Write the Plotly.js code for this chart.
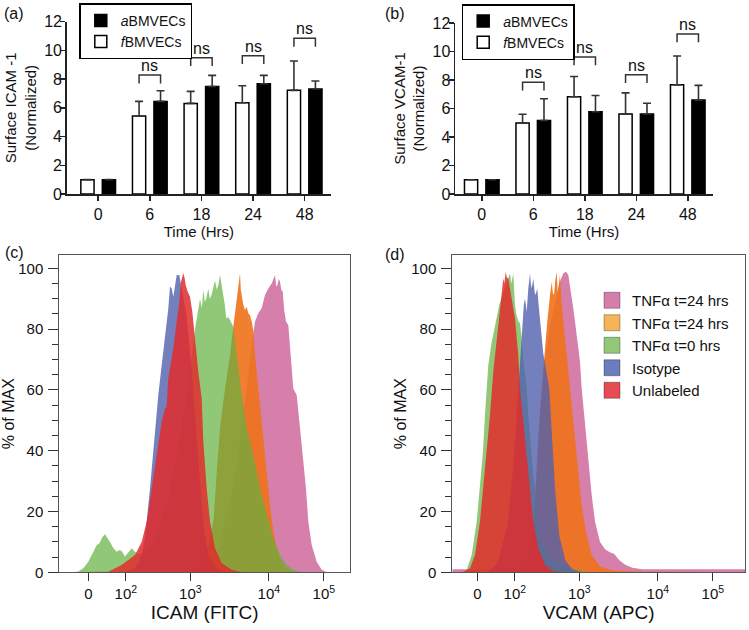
<!DOCTYPE html>
<html><head><meta charset="utf-8">
<script src="https://cdn.plot.ly/plotly-3.0.1.min.js"></script>
<style>html,body{margin:0;padding:0;background:#fff}#chart{width:749px;height:630px}</style>
</head><body><div id="chart"></div>
<script>
// ---------- (a)/(b) bar data ----------
const timeCats = ['0', '6', '18', '24', '48'];
const icamF    = [1.0, 5.43, 6.31, 6.36, 7.22];
const icamFErr = [0, 1.02, 0.84, 1.18, 2.04];
const icamA    = [1.0, 6.45, 7.49, 7.68, 7.31];
const icamAErr = [0, 0.74, 0.77, 0.58, 0.56];
const icamBracket = [null, 8.28, 9.49, 9.63, 10.84];

const vcamF    = [1.0, 4.99, 6.82, 5.62, 7.66];
const vcamFErr = [0, 0.61, 1.43, 1.48, 2.02];
const vcamA    = [1.0, 5.16, 5.77, 5.62, 6.59];
const vcamAErr = [0, 1.52, 1.14, 0.75, 1.03];
const vcamBracket = [null, 7.85, 9.61, 8.37, 11.23];

// ---------- (c)/(d) flow histogram data (display position on biexponential axis, % of max) ----------
const flowTickPos  = [0, 37.5, 102, 180.5, 235.5];
const flowTickText = ['0', '10<sup>2</sup>', '10<sup>3</sup>', '10<sup>4</sup>', '10<sup>5</sup>'];

const icamTnf24bX = [-29, 95, 110, 120, 130, 140, 148, 155, 160, 163, 166.7, 170, 173.4, 176.7, 180, 183.4, 185.5, 186.7, 188, 189.2, 190.5, 191.7, 193, 194.4, 196, 197.7, 200, 202.4, 205, 208.4, 211.7, 215, 217.7, 220, 223.4, 228.4, 233.4, 238.4, 261.7];
const icamTnf24bY = [0, 0, 1, 3, 8, 20, 35, 52, 65, 74, 82.5, 85.2, 87, 91.2, 93.4, 95, 96.5, 97.8, 94, 94.5, 96.5, 95.6, 93, 92.3, 86, 82.5, 81.4, 71.5, 60.5, 58.3, 47.4, 38.6, 27.6, 16.7, 9, 3.5, 0.8, 0, 0];
const icamTnf24aX = [-29, 100, 110, 116, 120, 123, 125.5, 128.4, 131.7, 136.7, 141.7, 145, 147, 148.5, 150, 151.7, 152.5, 153.4, 155, 156.7, 158.4, 160, 161.7, 163.4, 165, 166.7, 170, 173.4, 176.7, 178.4, 181.7, 185, 190, 196.7, 205, 215, 261.7];
const icamTnf24aY = [0, 0, 1, 4, 8, 13, 18, 33, 47.4, 60.5, 71.5, 80.8, 86, 90, 95, 98.4, 93, 91.2, 88, 86.3, 87.4, 85.2, 84.6, 82.5, 79.7, 71.5, 60.5, 49.6, 38.6, 32, 22, 13.4, 5.7, 1.3, 0.2, 0, 0];
const icamTnf0X = [-29, -15, -10, -5, 0, 3.4, 6, 8.4, 11, 14, 16.7, 19, 21.7, 25, 28.3, 31, 33.3, 36.7, 40, 43.4, 46.7, 50, 55, 60, 70, 80, 90, 100, 106.7, 108.4, 111.7, 113.5, 115, 116.5, 118, 120, 121.5, 123, 125, 126.7, 128.5, 130, 131.7, 133, 135, 136.5, 138, 140, 141.7, 145, 148.4, 153.4, 158.4, 165, 171.7, 178.4, 185, 191.7, 198.4, 205, 211.7, 220, 261.7];
const icamTnf0Y = [0, 0, 0.3, 1.3, 3.5, 5.7, 7.5, 9, 9.5, 11.5, 12.5, 11.5, 10, 8, 6.8, 7.3, 7, 5.2, 6.5, 7.9, 6.8, 6, 6.5, 8, 14, 25, 42, 62, 80, 83, 90, 87, 93, 89, 90, 93.4, 90, 91, 94, 96, 93, 94.5, 97.8, 95, 92, 88, 83.5, 84, 83, 80.8, 71.5, 58.3, 47.4, 38.6, 27.6, 18.9, 11.2, 5.7, 2.4, 0.8, 0.2, 0, 0];
const icamIsoX = [-29, 35, 45, 50, 53.5, 56.7, 61.7, 66, 70, 73.4, 76.7, 80, 81.7, 83.4, 85, 86.5, 88.4, 91, 94, 98, 102, 106, 110, 115, 120, 126, 135, 261.7];
const icamIsoY = [0, 0, 1, 3, 6, 11.2, 27.6, 44, 58.3, 68.2, 77, 86.8, 94, 93.4, 90.7, 94, 97.8, 97.8, 92, 85, 72, 55, 35, 16, 6, 2, 0, 0];
const icamUnlX = [-29, 10, 20, 33.3, 46.7, 53.4, 58.4, 63.4, 68.4, 73.4, 76, 78.4, 80, 82.5, 85, 88.4, 90.7, 92.7, 95, 96.2, 97.4, 99.4, 101.7, 104, 106.7, 110, 113.4, 115, 118.4, 121.7, 126.7, 133.4, 143.4, 151.7, 160, 261.7];
const icamUnlY = [0, 0, 0.2, 2.4, 5.7, 10, 16.7, 27.6, 38.6, 49.6, 53, 55, 63.8, 69, 73.7, 82.5, 88, 95.6, 98.4, 97, 94.5, 92.3, 90.7, 85.7, 75.9, 66, 57.2, 43, 27.6, 16.7, 7.9, 3, 0.8, 0.2, 0, 0];

const vcamTnf24bX = [-25, 30, 40, 48, 55, 60, 64, 68, 72, 77, 82, 86, 88.7, 91, 92.7, 94.4, 96, 97.7, 100, 102.7, 104.4, 106.7, 109.4, 112, 114.4, 117.7, 122.7, 128, 133, 137, 142, 148, 155, 165, 267.7];
const vcamTnf24bY = [1, 1, 1.5, 3, 10, 30, 55, 70, 80, 88, 95, 98.4, 98.9, 97.8, 94.5, 91.2, 86.8, 82.5, 77, 69.3, 60.5, 51.8, 43, 34.2, 25.4, 16.7, 10, 7.5, 6.5, 6, 4, 2.5, 1.5, 1, 1];
const vcamTnf24aX = [-25, 45, 50, 53, 57, 61, 64.4, 67, 70, 72.7, 74.4, 75.5, 76.7, 78, 79.4, 80.5, 81.5, 82.7, 84.4, 87.7, 91, 94.4, 97.7, 101, 104.4, 108.7, 114.4, 122.7, 136, 160, 267.7];
const vcamTnf24aY = [0, 0, 1, 5, 20, 45, 60.5, 72, 82.5, 91.2, 95.6, 92, 91.2, 96, 98.9, 92, 96, 97.8, 88, 77, 66, 55, 44, 33, 22, 13.4, 5.7, 1.9, 0.6, 0.3, 0];
const vcamTnf0X = [-25, -12, -10.6, -5.6, -0.6, 2.7, 5.4, 7.7, 9, 11, 14, 18, 22, 26, 29, 31, 32.7, 34, 35, 36, 37, 37.7, 39, 41, 42.7, 44.4, 46, 47.7, 49.4, 51, 52.7, 54.4, 56, 57.7, 59.4, 61, 64.4, 71, 82.7, 96, 110, 120, 267.7];
const vcamTnf0Y = [0, 0, 0.8, 5.7, 16.7, 27.6, 38.6, 51.8, 60, 68.2, 75, 82, 88, 92, 95, 97, 98.4, 95, 97, 98.4, 92, 88, 85, 82.5, 82, 77, 70, 65, 60.5, 52, 45, 38, 32, 27.6, 21, 15, 9, 5, 2.4, 0.8, 0.2, 0, 0];
const vcamIsoX = [-25, 10, 20, 30, 36, 40, 42.5, 44.4, 45.4, 46.5, 47.7, 49.4, 51, 52.7, 53.5, 54.4, 56, 57.7, 58.8, 60, 61.3, 62.7, 66, 72, 75, 77.7, 82, 88, 95, 105, 267.7];
const vcamIsoY = [0, 0, 3, 15, 35, 55, 70, 80, 83.5, 88, 90.1, 85.7, 93.4, 98.4, 95, 93.4, 96.7, 91.2, 92, 93.4, 88, 82.5, 72, 60.5, 45, 27.6, 12, 4, 1, 0, 0];
const vcamUnlX = [-25, -15, -7.3, -2.3, 2.7, 6, 9.4, 12.7, 16, 19.4, 22.7, 24.5, 26, 27, 28.4, 29.5, 31, 32.7, 34.5, 36, 37.7, 39.4, 41, 42.7, 46, 49.4, 52.7, 56, 61, 67.7, 76, 85, 267.7];
const vcamUnlY = [0, 0, 1.3, 5.7, 16.7, 27.6, 38.6, 51.8, 66, 77, 88, 93, 96.7, 95, 98.9, 97, 96.7, 93.4, 90, 87, 83.5, 77, 71.5, 60.5, 49.6, 38.6, 27.6, 16.7, 7.9, 2.4, 0.4, 0, 0];

const seriesNames = ['TNF\u03b1 t=24 hrs', 'TNF\u03b1 t=24 hrs', 'TNF\u03b1 t=0 hrs', 'Isotype', 'Unlabeled'];

// ---------- styling ----------
const W = 749, H = 630;
const px = v => v / W;
const py = v => 1 - v / H;
const FONT = 'Liberation Sans, Arial, sans-serif';
const fillCols = ['rgba(212,122,168,0.96)', 'rgba(238,114,25,0.9)', 'rgba(98,176,62,0.7)', 'rgba(80,96,172,0.8)', 'rgba(226,44,44,0.85)'];
const legendCols = ['rgb(214,126,170)', 'rgb(245,180,88)', 'rgb(146,200,122)', 'rgb(108,124,190)', 'rgb(230,76,84)'];
const aName = '<i>a</i>BMVECs';
const fName = '<i>f</i>BMVECs';
const barOff = 0.208, barW = 0.256;
const idx = timeCats.map((c, i) => i);

function barTraces(fv, fe, av, ae, xa, ya, leg) {
  const common = {type: 'bar', x: idx, width: barW, xaxis: xa, yaxis: ya, legend: leg, hoverinfo: 'skip'};
  return [
    Object.assign({}, common, {name: aName, y: av, offset: barOff - barW / 2,
      marker: {color: '#000', line: {color: '#000', width: 1.5}},
      error_y: {type: 'data', symmetric: false, array: ae, arrayminus: ae.map(() => 0), color: '#333', thickness: 1.6, width: 4}}),
    Object.assign({}, common, {name: fName, y: fv, offset: -barOff - barW / 2,
      marker: {color: '#fff', line: {color: '#000', width: 1.5}},
      error_y: {type: 'data', symmetric: false, array: fe, arrayminus: fe.map(() => 0), color: '#333', thickness: 1.6, width: 4}})
  ];
}
function bracketTrace(br, xa, ya) {
  const x = [], y = [];
  br.forEach((b, i) => {
    if (b == null) return;
    x.push(i - barOff, i - barOff, i + barOff, i + barOff, null);
    y.push(b - 0.58, b, b, b - 0.58, null);
  });
  return {type: 'scatter', mode: 'lines', x: x, y: y, xaxis: xa, yaxis: ya, showlegend: false, hoverinfo: 'skip',
    line: {color: '#333', width: 1.5}};
}
function nsAnn(br, xr, yr) {
  const out = [];
  br.forEach((b, i) => {
    if (b == null) return;
    out.push({xref: xr, yref: yr, x: i, y: b, text: 'ns', showarrow: false, yanchor: 'bottom', yshift: -1,
      font: {family: FONT, size: 16, color: '#111'}});
  });
  return out;
}
function histTraces(xs, ys, xa, ya) {
  return xs.map((x, k) => ({type: 'scatter', mode: 'lines', x: x, y: ys[k], xaxis: xa, yaxis: ya, fill: 'tozeroy',
    fillcolor: fillCols[k], line: {width: 0, color: fillCols[k]}, showlegend: false, hoverinfo: 'skip'}));
}

const data = [].concat(
  barTraces(icamF, icamFErr, icamA, icamAErr, 'x', 'y', 'legend'),
  [bracketTrace(icamBracket, 'x', 'y')],
  barTraces(vcamF, vcamFErr, vcamA, vcamAErr, 'x2', 'y2', 'legend2'),
  [bracketTrace(vcamBracket, 'x2', 'y2')],
  histTraces([icamTnf24bX, icamTnf24aX, icamTnf0X, icamIsoX, icamUnlX], [icamTnf24bY, icamTnf24aY, icamTnf0Y, icamIsoY, icamUnlY], 'x3', 'y3'),
  histTraces([vcamTnf24bX, vcamTnf24aX, vcamTnf0X, vcamIsoX, vcamUnlX], [vcamTnf24bY, vcamTnf24aY, vcamTnf0Y, vcamIsoY, vcamUnlY], 'x4', 'y4'),
  seriesNames.map((n, k) => ({type: 'scatter', mode: 'markers', x: [null], y: [null], xaxis: 'x4', yaxis: 'y4', name: n,
    legend: 'legend3', hoverinfo: 'skip',
    marker: {symbol: 'square', size: 16, color: legendCols[k], line: {color: 'rgba(0,0,0,0.3)', width: 1}}}))
);

const tickFont = {family: FONT, size: 16, color: '#111'};
function barX(dom, rng, ya) {
  return {domain: dom, range: rng, anchor: ya, tickvals: idx, ticktext: timeCats, ticks: 'outside', ticklen: 5, tickwidth: 1.5,
    tickcolor: '#222', showline: true, linewidth: 1.5, linecolor: '#222', zeroline: false, showgrid: false, fixedrange: true,
    tickfont: tickFont, title: {text: 'Time (Hrs)', font: {family: FONT, size: 15, color: '#111'}, standoff: 0}};
}
function barY(dom, xa, title) {
  return {domain: dom, range: [0, 12], anchor: xa, dtick: 2, tick0: 0, ticks: 'outside', ticklen: 5, tickwidth: 1.5,
    tickcolor: '#222', showline: true, linewidth: 1.5, linecolor: '#222', zeroline: false, showgrid: false, fixedrange: true,
    ticklabelstandoff: -5,
    tickfont: tickFont, title: {text: title, font: {family: FONT, size: 15, color: '#111'}, standoff: 4}};
}
function flowX(dom, rng, ya, title) {
  return {domain: dom, range: rng, anchor: ya, tickvals: flowTickPos, ticktext: flowTickText, ticks: 'outside', ticklen: 8,
    tickwidth: 1.2, tickcolor: '#333', showline: true, mirror: true, linewidth: 1, linecolor: '#555', zeroline: false,
    showgrid: false, fixedrange: true, tickfont: {family: FONT, size: 15, color: '#111'},
    title: {text: title, font: {family: FONT, size: 19, color: '#111'}, standoff: 4}};
}
function flowY(dom, xa) {
  return {domain: dom, range: [0, 104.4], anchor: xa, dtick: 20, tick0: 0, ticks: 'outside', ticklen: 10, tickwidth: 1,
    tickcolor: '#333', minor: {dtick: 5, ticklen: 6, ticks: 'outside', tickcolor: '#333', tickwidth: 1},
    showline: true, mirror: true, linewidth: 1, linecolor: '#555', zeroline: false, showgrid: false, fixedrange: true,
    ticklabelstandoff: 2,
    tickfont: {family: FONT, size: 15, color: '#111'},
    title: {text: '% of MAX', font: {family: FONT, size: 16, color: '#111'}, standoff: 0}};
}
const barLegend = (x, y) => ({x: px(x), y: py(y), xanchor: 'left', yanchor: 'top', bgcolor: '#fff', bordercolor: '#000',
  borderwidth: 1.5, font: {family: FONT, size: 14, color: '#111'}, tracegroupgap: 0});
const panelLab = (t, x, y) => ({xref: 'paper', yref: 'paper', x: px(x), y: py(y), xanchor: 'left', yanchor: 'top',
  text: t, showarrow: false, font: {family: FONT, size: 16, color: '#111'}});

const layout = {
  width: W, height: H, margin: {l: 0, r: 0, t: 0, b: 0}, paper_bgcolor: '#fff', plot_bgcolor: 'rgba(0,0,0,0)',
  font: {family: FONT, color: '#111'}, barmode: 'overlay', showlegend: true,
  xaxis: barX([px(66.7), px(331)], [-0.61, 4.51], 'y'),
  yaxis: barY([py(194), py(21.7)], 'x', 'Surface ICAM -1<br>(Normalized)'),
  xaxis2: barX([px(455), px(713)], [-0.52, 4.49], 'y2'),
  yaxis2: barY([py(194), py(23)], 'x2', 'Surface VCAM-1<br>(Normalized)'),
  xaxis3: flowX([px(59.3), px(350)], [-29, 261.7], 'y3', 'ICAM (FITC)'),
  yaxis3: flowY([py(572.3), py(255)], 'x3'),
  xaxis4: flowX([px(452.3), px(745)], [-25, 267.7], 'y4', 'VCAM (APC)'),
  yaxis4: flowY([py(572.3), py(255)], 'x4'),
  legend: barLegend(79.3, 3.3),
  legend2: barLegend(461.7, 4),
  legend3: {x: px(592), y: py(284), xanchor: 'left', yanchor: 'top', bgcolor: 'rgba(255,255,255,0)', borderwidth: 0,
    font: {family: FONT, size: 15, color: '#111'}, itemsizing: 'trace'},
  annotations: [].concat(nsAnn(icamBracket, 'x', 'y'), nsAnn(vcamBracket, 'x2', 'y2'),
    [panelLab('(a)', 2, 3), panelLab('(b)', 383, 3), panelLab('(c)', 3, 242), panelLab('(d)', 383, 244)])
};

Plotly.newPlot('chart', data, layout, {staticPlot: true, displayModeBar: false});
</script></body></html>
